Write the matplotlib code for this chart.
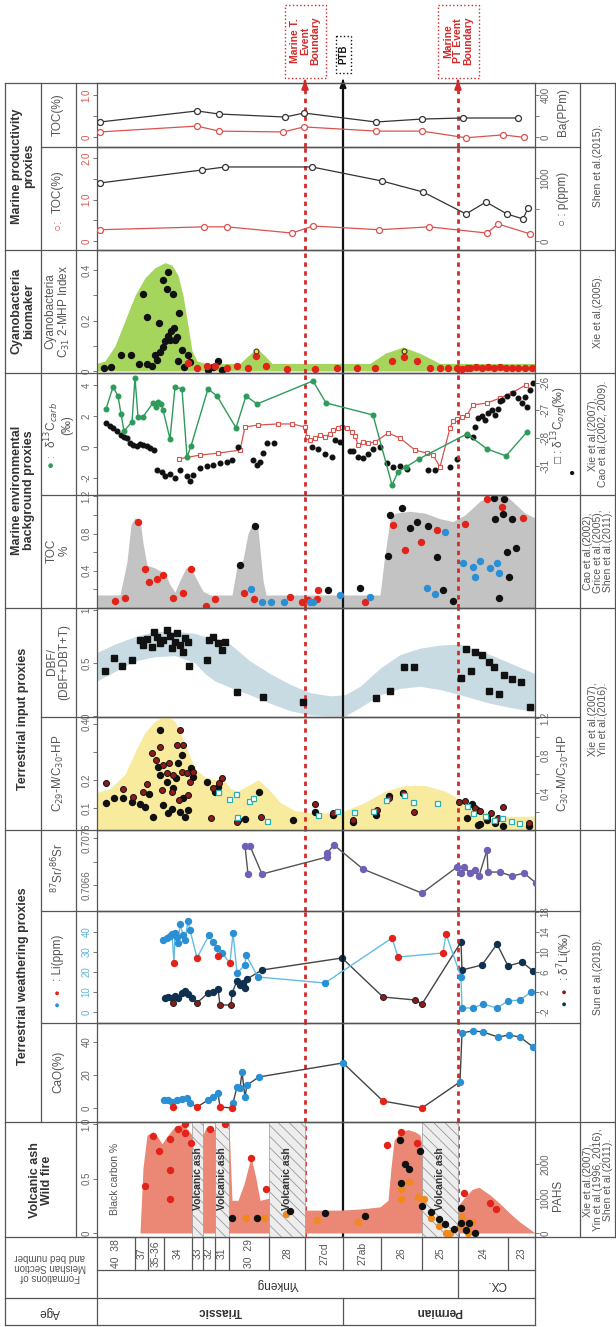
import matplotlib
matplotlib.use("Agg")
import matplotlib.pyplot as plt
from matplotlib.lines import Line2D
from matplotlib.patches import Rectangle

plt.rcParams["font.family"] = ["Liberation Sans", "DejaVu Sans"]
plt.rcParams["hatch.linewidth"] = 0.6

W, H = 616, 1327
X0, X1 = 97, 535            # plot column (left / right edge, px)
STRAT_LIM = (97, 535)       # stratigraphic position units (top of section at left)
LINE = "#555555"
TXT = "#444444"

# ---------------------------------------------------------------- section
BED_EDGES = [97, 135, 148, 164, 192, 203, 215, 229, 269, 305, 343, 381, 422, 458, 508, 535]
BED_LABELS = ["40  38", "37", "35-36", "34", "33", "32", "31", "30  29", "28",
              "27cd", "27ab", "26", "25", "24", "23"]
FORMATIONS = [("Yinkeng", 97, 458), ("CX.", 458, 535)]
AGES = [("Triassic", 97, 343), ("Permian", 343, 535)]
ASH_BANDS = [(192, 203), (215, 229), (269, 305), (422, 458)]
EVENT_RED = [305, 458]
PTB_X = 343

# ---------------------------------------------------------------- panel 1: TOC / Ba
toc1_x = [100, 197, 219, 283, 304, 376, 422, 466, 503, 524]
toc1 = [0.12, 0.26, 0.14, 0.12, 0.24, 0.14, 0.14, -0.02, 0.05, -0.01]
ba_x = [100, 197, 219, 285, 304, 376, 422, 463, 518]
ba = [143, 248, 219, 190, 228, 143, 171, 181, 181]

# ---------------------------------------------------------------- panel 2: TOC / P
toc2_x = [100, 204, 227, 292, 313, 379, 429, 487, 498, 530]
toc2 = [0.27, 0.34, 0.34, 0.19, 0.36, 0.27, 0.34, 0.19, 0.41, 0.17]
p_x = [100, 202, 225, 312, 382, 423, 466, 486, 507, 523, 528]
p_ppm = [921, 1127, 1175, 1175, 952, 778, 429, 619, 429, 349, 524]

# ---------------------------------------------------------------- panel 3: cyanobacteria
cy_env_x = [97, 105, 115, 125, 135, 145, 155, 165, 172, 178, 183, 188, 192, 197, 205, 240,
            248, 257, 265, 272, 370, 385, 403, 420, 440, 535]
cy_env = [0.03, 0.04, 0.10, 0.20, 0.30, 0.37, 0.41, 0.43, 0.42, 0.38, 0.30, 0.18, 0.08, 0.04,
          0.03, 0.03, 0.06, 0.09, 0.06, 0.03, 0.03, 0.07, 0.095, 0.07, 0.03, 0.03]
cy_blk_x = [104, 111, 121, 131, 143, 139, 147, 147, 152, 155, 157, 159, 160, 163, 163, 167,
            168, 170, 173, 174, 175, 177, 179, 178, 182, 184, 188, 190, 208, 213, 218, 222,
            165, 168, 171]
cy_blk = [0.012, 0.016, 0.063, 0.063, 0.305, 0.028, 0.214, 0.028, 0.02, 0.063, 0.044, 0.19,
          0.075, 0.095, 0.36, 0.325, 0.392, 0.123, 0.305, 0.17, 0.123, 0.135, 0.23, 0.04,
          0.083, 0.016, 0.063, 0.036, 0.004, 0.016, 0.04, 0.004, 0.12, 0.14, 0.16]
cy_red_x = [188, 197, 207, 215, 227, 237, 248, 256, 266, 287, 315, 337, 357, 375, 392, 404,
            417, 430, 440, 448, 457, 462, 467, 470, 476, 482, 488, 494, 500, 506, 512, 518,
            525, 532]
cy_red = [0.03, 0.012, 0.02, 0.02, 0.012, 0.02, 0.012, 0.06, 0.02, 0.008, 0.008, 0.01, 0.01,
          0.012, 0.04, 0.055, 0.04, 0.012, 0.012, 0.01, 0.01, 0.008, 0.01, 0.012, 0.016,
          0.012, 0.016, 0.012, 0.016, 0.012, 0.012, 0.012, 0.012, 0.012]
cy_yel_x = [256, 404]
cy_yel = [0.08, 0.08]

# ---------------------------------------------------------------- panel 4: d13C
carb_x = [106, 113, 118, 121, 124, 132, 135, 138, 143, 153, 156, 158, 161, 163, 170, 175,
          182, 187, 191, 208, 217, 236, 246, 257, 313, 326, 373, 392, 398, 406, 419, 467,
          487, 506, 527]
carb = [2.45, 3.87, 3.29, 2.13, 1.03, 1.61, 4.45, 1.94, 1.94, 2.84, 2.58, 2.9, 2.77, 2.39,
        0.52, 3.87, 3.74, -0.65, 0.06, 3.74, 3.29, 1.23, 3.29, 2.77, 4.26, 2.84, 2.06,
        -2.45, -1.61, -1.29, -0.77, 0.84, -0.13, -0.58, 0.97]
org_blk_x = [106, 110, 113, 117, 121, 124, 127, 130, 133, 137, 140, 143, 147, 150, 154, 157,
             162, 165, 170, 175, 180, 187, 190, 193, 200, 207, 213, 220, 227, 232, 238, 253,
             257, 260, 263, 267, 274, 312, 318, 325, 332, 335, 340, 350, 353, 358, 363, 368,
             373, 380, 387, 393, 400, 407, 428, 435, 450, 457, 467, 473, 475, 478, 482, 485,
             488, 492, 495, 498, 500, 502, 507, 513, 518, 522, 525, 527, 530, 533]
org_blk = [-27.45, -27.56, -27.64, -27.75, -27.89, -27.96, -28.0, -28.18, -28.25, -28.29,
           -28.22, -28.25, -28.29, -28.36, -28.44, -29.16, -29.24, -29.38, -29.31, -29.45,
           -29.16, -29.38, -29.56, -29.35, -29.09, -29.02, -28.98, -28.91, -28.87, -28.8,
           -28.33, -28.8, -28.98, -28.87, -28.55, -28.18, -28.18, -28.33, -28.4, -28.58,
           -28.69, -28.07, -28.15, -28.47, -28.47, -28.69, -28.73, -28.58, -28.4, -28.33,
           -28.91, -29.05, -29.02, -29.13, -29.16, -29.16, -29.05, -28.76, -27.89, -27.96,
           -27.6, -27.27, -27.2, -27.35, -27.09, -26.98, -27.16, -26.95, -26.65, -26.62,
           -26.47, -26.36, -26.55, -26.73, -26.51, -26.87, -26.25, -26.0]
org_sq_x = [179, 200, 218, 240, 245, 258, 278, 292, 305, 307, 310, 315, 320, 325, 330, 333,
            338, 342, 347, 352, 355, 358, 363, 368, 375, 388, 400, 415, 427, 433, 440, 450,
            453, 457, 462, 467, 473, 487, 500, 512, 526]
org_sq = [-28.76, -28.62, -28.55, -28.44, -27.6, -27.53, -27.49, -27.49, -27.6, -27.96,
          -28.07, -28.0, -27.89, -27.96, -27.85, -27.71, -27.64, -27.6, -27.64, -27.78,
          -27.93, -28.25, -28.15, -28.18, -28.15, -27.82, -28.0, -28.44, -28.55, -28.62,
          -29.05, -27.64, -27.38, -27.31, -27.24, -27.16, -26.8, -26.73, -26.55, -26.36,
          -26.07]
ORG_TICKS = [-29, -28, -27, -26]
ORG_TICKLABELS = ["-31", "-28", "-27", "-26"]

# ---------------------------------------------------------------- panel 5: TOC %
toc_env_x = [97, 120, 127, 131, 135, 140, 143, 147, 155, 160, 165, 170, 175, 180, 186, 190,
             196, 203, 210, 232, 237, 243, 248, 253, 258, 263, 266, 380, 384, 390, 395, 410,
             425, 440, 453, 465, 480, 495, 505, 515, 525, 535]
toc_env = [0.14, 0.14, 0.5, 0.9, 0.97, 0.95, 0.7, 0.46, 0.43, 0.40, 0.38, 0.25, 0.17, 0.3,
           0.43, 0.45, 0.32, 0.18, 0.14, 0.14, 0.45, 0.52, 0.8, 0.92, 0.85, 0.3, 0.14, 0.14,
           0.5, 0.95, 1.02, 1.04, 1.02, 0.96, 0.93, 1.0, 1.15, 1.22, 1.22, 1.12, 1.02, 0.97]
toc_red_x = [115, 125, 138, 145, 149, 157, 163, 173, 183, 191, 206, 215, 244, 254, 290, 302,
             317, 308, 318, 365, 393, 405, 421, 437, 465, 487, 502, 523]
toc_red = [0.08, 0.11, 0.92, 0.42, 0.28, 0.31, 0.35, 0.11, 0.16, 0.42, 0.02, 0.1, 0.16, 0.1,
           0.12, 0.06, 0.1, 0.09, 0.19, 0.06, 0.89, 0.62, 0.71, 0.84, 0.9, 1.17, 1.09, 0.97]
toc_blk_x = [240, 255, 328, 360, 388, 390, 402, 410, 417, 428, 437, 443, 453, 494, 504, 495,
             503, 512, 507, 516, 509, 499]
toc_blk = [0.46, 0.88, 0.19, 0.22, 0.56, 1.0, 1.08, 0.86, 0.93, 0.88, 0.55, 0.19, 0.08,
           1.18, 1.17, 0.96, 1.01, 0.96, 0.6, 0.64, 0.33, 0.11]
toc_blu_x = [251, 262, 271, 284, 310, 313, 340, 370, 445, 427, 435, 463, 473, 475, 480, 490,
             497, 499]
toc_blu = [0.2, 0.06, 0.06, 0.06, 0.06, 0.06, 0.14, 0.12, 0.82, 0.22, 0.15, 0.48, 0.44,
           0.33, 0.5, 0.43, 0.48, 0.38]

# ---------------------------------------------------------------- panel 6: DBF
dbf_band_x = [97, 115, 135, 155, 175, 195, 205, 215, 230, 250, 270, 290, 310, 330, 345,
              360, 380, 400, 420, 440, 460, 490, 510, 535]
dbf_lo = [0.33, 0.42, 0.52, 0.56, 0.57, 0.50, 0.40, 0.33, 0.27, 0.20, 0.12, 0.05, 0.01,
          0.0, 0.0, 0.08, 0.2, 0.26, 0.28, 0.25, 0.2, 0.12, 0.08, 0.04]
dbf_hi = [0.60, 0.68, 0.75, 0.80, 0.80, 0.78, 0.75, 0.74, 0.68, 0.52, 0.40, 0.30, 0.22,
          0.19, 0.20, 0.28, 0.45, 0.58, 0.64, 0.67, 0.68, 0.58, 0.50, 0.40]
dbf_x = [105, 114, 122, 132, 140, 143, 147, 152, 154, 157, 160, 163, 167, 170, 172, 175,
         177, 180, 183, 185, 188, 189, 207, 209, 213, 218, 222, 225, 237, 263, 303, 376,
         390, 404, 414, 461, 466, 471, 475, 482, 489, 489, 494, 499, 504, 512, 521, 530]
dbf = [0.42, 0.55, 0.47, 0.53, 0.72, 0.67, 0.73, 0.65, 0.79, 0.75, 0.69, 0.72, 0.81, 0.76,
       0.64, 0.70, 0.78, 0.67, 0.60, 0.74, 0.70, 0.47, 0.53, 0.72, 0.75, 0.69, 0.62, 0.70,
       0.23, 0.18, 0.13, 0.17, 0.24, 0.46, 0.46, 0.36, 0.63, 0.42, 0.60, 0.58, 0.51, 0.24,
       0.46, 0.21, 0.39, 0.35, 0.32, 0.08]

# ---------------------------------------------------------------- panel 7: C29-M/C30-HP
c29_env_x = [97, 110, 125, 135, 145, 155, 165, 175, 185, 195, 205, 215, 222, 230, 238, 248,
             258, 268, 280, 295, 320, 345, 365, 385, 405, 425, 445, 460, 475, 490, 505, 535]
c29_env = [0.155, 0.17, 0.22, 0.3, 0.37, 0.41, 0.43, 0.41, 0.33, 0.24, 0.21, 0.2, 0.21, 0.17,
           0.16, 0.18, 0.2, 0.17, 0.12, 0.09, 0.08, 0.09, 0.12, 0.16, 0.18, 0.18, 0.16, 0.13,
           0.1, 0.08, 0.07, 0.07]
c29_blk_x = [106, 114, 123, 132, 140, 145, 149, 153, 158, 160, 163, 167, 168, 172, 173, 176,
             178, 180, 182, 183, 185, 188, 191, 193, 207, 215, 218, 238, 245, 259, 293, 315,
             160, 333, 353, 376, 389, 403, 467, 472, 477, 480, 487, 495, 503, 529, 478]
c29_blk = [0.118, 0.136, 0.136, 0.121, 0.114, 0.104, 0.15, 0.068, 0.246, 0.218, 0.111, 0.193,
           0.082, 0.096, 0.171, 0.207, 0.261, 0.086, 0.289, 0.136, 0.068, 0.093, 0.243, 0.211,
           0.193, 0.157, 0.175, 0.057, 0.061, 0.157, 0.057, 0.086, 0.379, 0.075, 0.05, 0.075,
           0.143, 0.154, 0.064, 0.114, 0.093, 0.043, 0.057, 0.046, 0.036, 0.036, 0.039]
c29_red_x = [106, 123, 133, 143, 147, 152, 156, 160, 162, 163, 167, 169, 172, 173, 177, 179,
             182, 183, 187, 188, 190, 193, 180, 211, 213, 219, 222, 237, 261, 315, 333, 353,
             377, 389, 403, 414, 459, 465, 475, 480, 487, 491, 498, 503, 529]
c29_red = [0.189, 0.168, 0.139, 0.157, 0.186, 0.296, 0.271, 0.318, 0.164, 0.254, 0.225, 0.261,
           0.157, 0.218, 0.325, 0.129, 0.229, 0.325, 0.225, 0.146, 0.193, 0.229, 0.379, 0.064,
           0.171, 0.189, 0.207, 0.05, 0.068, 0.114, 0.082, 0.057, 0.093, 0.136, 0.154, 0.086,
           0.121, 0.125, 0.1, 0.089, 0.068, 0.082, 0.064, 0.104, 0.046]
c29_sq_x = [218, 229, 236, 237, 249, 253, 267, 318, 337, 354, 373, 386, 404, 413, 437, 467,
            473, 485, 494, 502, 511, 519]
c29_sq = [0.157, 0.132, 0.15, 0.068, 0.125, 0.136, 0.054, 0.075, 0.089, 0.086, 0.089, 0.129,
          0.146, 0.121, 0.118, 0.107, 0.082, 0.071, 0.057, 0.064, 0.054, 0.046]

# ---------------------------------------------------------------- panel 8: 87Sr/86Sr
sr_x = [248, 245, 250, 262, 327, 327, 334, 363, 422, 457, 461, 464, 470, 475, 479, 487,
        488, 500, 512, 524, 536]
sr = [0.706834, 0.707430, 0.707430, 0.706834, 0.707196, 0.707281, 0.707451, 0.706940,
      0.706430, 0.706983, 0.706855, 0.706983, 0.706855, 0.706919, 0.706791, 0.707345,
      0.706877, 0.706877, 0.706791, 0.706855, 0.706643]

# ---------------------------------------------------------------- panel 9: Li / d7Li
li_x = [163, 167, 170, 172, 174, 175, 177, 178, 180, 183, 185, 188, 190, 197, 209, 213, 217,
        218, 222, 230, 233, 237, 245, 246, 258, 325, 392, 398, 443, 446, 461, 462, 473, 483,
        497, 508, 520, 531]
li = [36, 37, 38, 39, 24.5, 39.5, 37.5, 34.5, 44, 38.5, 36, 45.5, 41, 27, 38.5, 35, 32, 28,
      29.5, 24.5, 39.5, 19.5, 23.5, 28.5, 17.5, 14.5, 37, 27.5, 29.5, 39, 17.5, 2, 2, 4, 2,
      5.5, 6, 10]
li_src = list("bbbbrbbbbbbbbrbbbrbrbbbbbbrrrrbbbbbbbb")
d7li_x = [165, 168, 172, 173, 175, 178, 182, 185, 188, 192, 197, 208, 213, 218, 220, 231,
          232, 237, 240, 243, 245, 247, 262, 342, 383, 415, 422, 461, 462, 482, 497, 508,
          522, 533]
d7li = [0.8, 1.0, 0.8, -0.2, 1.2, 0.8, 1.8, 2.2, 1.6, 0.8, -0.2, 1.8, 2.0, 2.6, -0.6, -0.6,
        1.8, 4.2, 3.4, 3.8, 2.8, 4.6, 6.4, 8.8, 1.0, 0.4, -0.4, 12.0, 6.4, 7.4, 11.6, 7.2,
        8.0, 6.2]
d7li_src = list("nnnrnnnnnnrnnnrrnnnnnnnnrrrnnnnnnn")

# ---------------------------------------------------------------- panel 10: CaO
cao_x = [164, 168, 172, 173, 177, 182, 187, 190, 197, 208, 213, 218, 220, 232, 233, 237,
         240, 242, 245, 247, 259, 343, 383, 422, 460, 462, 473, 483, 498, 509, 520, 533]
cao = [4.8, 4.8, 3.6, 0.6, 4.8, 5.5, 6.1, 3.0, 0.6, 4.8, 6.7, 9.1, 0.6, 0.0, 3.0, 12.7,
       12.1, 21.8, 6.7, 13.9, 18.8, 27.3, 4.2, 0.0, 15.8, 45.5, 46.7, 46.1, 43.0, 44.2,
       43.0, 37.0]
cao_src = list("bbbrbbbbrbbbrrbbbbbbbbrrbbbbbbbb")

# ---------------------------------------------------------------- panel 11: black carbon / PAHs
bc_env_x = [97, 140, 143, 147, 153, 158, 162, 168, 175, 182, 188, 192, 203, 206, 210, 214,
            229, 232, 238, 244, 251, 256, 260, 269, 305, 340, 360, 380, 388, 391, 394, 400,
            408, 415, 420, 428, 445, 458, 465, 472, 479, 490, 500, 510, 520, 535]
bc_env = [0.0, 0.0, 0.6, 0.9, 0.93, 0.88, 0.82, 0.9, 0.98, 1.0, 0.95, 0.9, 0.9, 0.97, 0.98,
          0.95, 1.0, 0.3, 0.3, 0.45, 0.7, 0.5, 0.3, 0.32, 0.21, 0.21, 0.22, 0.24, 0.3, 0.6,
          0.85, 0.93, 0.95, 0.93, 0.9, 0.5, 0.28, 0.25, 0.33, 0.4, 0.42, 0.35, 0.27, 0.18,
          0.1, 0.0]
bc_red_x = [145, 153, 159, 170, 170, 170, 178, 185, 185, 191, 210, 225, 251, 266, 401, 387,
            417, 464, 490, 496]
bc_red = [0.43, 0.89, 0.75, 0.86, 0.58, 0.31, 0.96, 1.0, 0.92, 0.83, 0.96, 1.0, 0.69, 0.4,
          0.93, 0.81, 0.83, 0.37, 0.28, 0.22]
bc_blk_x = [232, 257, 290, 325, 365, 400, 405, 409, 401, 420, 422, 431, 439, 445, 454, 461,
            461, 466, 469, 475]
bc_blk = [0.14, 0.14, 0.2, 0.18, 0.16, 0.85, 0.63, 0.59, 0.46, 0.75, 0.25, 0.19, 0.13, 0.08,
          0.04, 0.23, 0.09, 0.03, 0.09, 0.0]
bc_org_x = [246, 264, 286, 317, 358, 401, 401, 409, 418, 424, 431, 439, 446, 450, 460, 462,
            468, 472, 468]
bc_org = [0.14, 0.14, 0.17, 0.12, 0.1, 0.4, 0.31, 0.47, 0.33, 0.31, 0.14, 0.06, 0.0, 0.0,
          0.06, 0.15, 0.06, 0.1, 0.0]

# ---------------------------------------------------------------- colours
RED = "#e2231a"
BLUE = "#2b8fd3"
LBLUE = "#63bde3"
NAVY = "#10304f"
DRED = "#8e1b1b"
GREEN = "#2d9b5a"
ORANGE = "#f08a1c"
PURPLE = "#6f5fb6"
EVRED = "#d42a2a"

fig = plt.figure(figsize=(W / 100, H / 100), dpi=100)


def fx(px):
    return px / W


def fy(py):
    return 1 - py / H


def tline(x0, y0, x1, y1, **kw):
    kw.setdefault("color", LINE)
    kw.setdefault("lw", 0.9)
    fig.add_artist(Line2D([fx(x0), fx(x1)], [fy(y0), fy(y1)], transform=fig.transFigure, **kw))


def ftext(x, y, s, **kw):
    kw.setdefault("rotation", 90)
    kw.setdefault("ha", "center")
    kw.setdefault("va", "center")
    kw.setdefault("color", TXT)
    kw.setdefault("fontsize", 8.5)
    kw.setdefault("linespacing", 1.05)
    fig.text(fx(x), fy(y), s, **kw)


def fix_labels(ax):
    for t in ax.get_yticklabels():
        t.set_va("center")


def panel(top, bot, ylim):
    ax = fig.add_axes([fx(X0), fy(bot), fx(X1) - fx(X0), (bot - top) / H])
    ax.set_xlim(STRAT_LIM)
    ax.set_ylim(ylim)
    ax.set_xticks([])
    ax.patch.set_alpha(0)
    for s in ax.spines.values():
        s.set_color(LINE)
        s.set_linewidth(0.9)
    ax.tick_params(axis="y", labelsize=7, colors="#777777", labelcolor="#666666",
                   length=3, width=0.7, pad=1, labelrotation=90)
    for x in EVENT_RED:
        ax.axvline(x, color=EVRED, lw=2.0, ls=(0, (1.6, 1.6)), zorder=2.5)
    ax.axvline(PTB_X, color="#111111", lw=1.6, zorder=2.4)
    return ax


def right_axis(ax, ylim, ticks, labels):
    r = ax.twinx()
    r.set_ylim(ylim)
    r.set_yticks(ticks)
    r.set_yticklabels(labels)
    r.tick_params(axis="y", labelsize=7, colors="#777777", labelcolor="#666666",
                  length=3, width=0.7, pad=1, labelrotation=90)
    for s in r.spines.values():
        s.set_visible(False)
    fix_labels(r)
    return r


def ticks(ax, vals, labels, color=None):
    ax.set_yticks(vals)
    ax.set_yticklabels(labels)
    if color:
        ax.tick_params(axis="y", labelcolor=color)
    fix_labels(ax)


def split(xs, vs, flags, key):
    return ([x for x, f in zip(xs, flags) if f == key],
            [v for v, f in zip(vs, flags) if f == key])


# ---------------------------------------------------------------- P1
ax = panel(83, 147, (-0.24, 1.29))
ticks(ax, [0, 0.5, 1.0], ["0", "", "1.0"], "#d9534f")
r = right_axis(ax, (-95, 514), [0, 200, 400], ["0", "", "400"])
r.plot(ba_x, ba, "-o", color="#333333", lw=0.9, ms=4.3, mfc="white", mew=0.9, zorder=3)
ax.plot(toc1_x, toc1, "-o", color="#d9534f", lw=0.9, ms=4.3, mfc="white", mew=0.9, zorder=3)

# ---------------------------------------------------------------- P2
ax = panel(147, 250, (-0.22, 2.27))
ticks(ax, [0, 0.5, 1.0, 1.5, 2.0], ["0", "", "1.0", "", "2.0"], "#d9534f")
r = right_axis(ax, (-143, 1492), [0, 500, 1000], ["0", "", "1000"])
r.plot(p_x, p_ppm, "-o", color="#333333", lw=0.9, ms=4.3, mfc="white", mew=0.9, zorder=3)
ax.plot(toc2_x, toc2, "-o", color="#d9534f", lw=0.9, ms=4.3, mfc="white", mew=0.9, zorder=3)

# ---------------------------------------------------------------- P3
ax = panel(250, 373, (-0.008, 0.48))
ticks(ax, [0, 0.1, 0.2, 0.3, 0.4], ["0", "", "0.2", "", "0.4"])
ax.fill_between(cy_env_x, 0, cy_env, color="#a6d55e", lw=0, zorder=1)
ax.plot(cy_blk_x, cy_blk, "o", color="#111111", ms=4.3, zorder=3)
ax.plot(cy_red_x, cy_red, "o", color=RED, ms=4.3, zorder=3)
ax.plot(cy_yel_x, cy_yel, "o", color="#f5e41c", mec="#333333", mew=0.8, ms=3.5, zorder=4)

# ---------------------------------------------------------------- P4
ax = panel(373, 495, (-3.1, 4.77))
ticks(ax, [-2, 0, 2, 4], ["-2", "0", "2", "4"])
r = right_axis(ax, (-30.07, -25.64), ORG_TICKS, ORG_TICKLABELS)
r.plot(org_sq_x, org_sq, "-s", color="#d9534f", lw=0.9, ms=3.3, mfc="white", mew=0.8, zorder=3)
r.plot(org_blk_x, org_blk, "o", color="#111111", ms=3.3, zorder=3)
ax.plot(carb_x, carb, "-o", color=GREEN, lw=1.0, ms=3.3, zorder=4)
ax.set_zorder(r.get_zorder() + 1)

# ---------------------------------------------------------------- P5
ax = panel(495, 608, (0, 1.215))
ticks(ax, [0, 0.2, 0.4, 0.6, 0.8, 1.0, 1.2], ["", "", "0.4", "", "0.8", "", "1.2"])
ax.fill_between(toc_env_x, 0, toc_env, color="#c3c3c3", lw=0, zorder=1)
ax.plot(toc_red_x, toc_red, "o", color=RED, ms=4.3, zorder=3)
ax.plot(toc_blk_x, toc_blk, "o", color="#111111", ms=4.3, zorder=3)
ax.plot(toc_blu_x, toc_blu, "o", color=BLUE, ms=4.3, zorder=3)

# ---------------------------------------------------------------- P6
ax = panel(608, 717, (-0.01, 1.02))
ticks(ax, [0, 0.5, 1.0], ["0", "0.5", "1"])
ax.fill_between(dbf_band_x, dbf_lo, dbf_hi, color="#c8dbe2", lw=0, zorder=1)
ax.plot(dbf_x, dbf, "s", color="#111111", ms=4.2, zorder=3)

# ---------------------------------------------------------------- P7
ax = panel(717, 830, (0.021, 0.425))
ticks(ax, [0.1, 0.2, 0.3, 0.4], ["0.1", "0.2", "", "0.4"])
r = right_axis(ax, (0.01, 1.21), [0.2, 0.4, 0.6, 0.8, 1.0, 1.2], ["", "0.4", "", "0.8", "", "1.2"])
ax.fill_between(c29_env_x, 0, c29_env, color="#f8eb9e", lw=0, zorder=1)
ax.plot(c29_blk_x, c29_blk, "o", color="#111111", ms=4.3, zorder=3)
ax.plot(c29_red_x, c29_red, "o", color=DRED, mec="#111111", mew=0.7, ms=4.3, zorder=3)
ax.plot(c29_sq_x, c29_sq, "s", color="#27b0b3", mfc="white", mew=0.9, ms=3.6, zorder=3)
ax.set_zorder(r.get_zorder() + 1)

# ---------------------------------------------------------------- P8
ax = panel(830, 911, (0.70605, 0.70777))
ticks(ax, [0.7066, 0.7071, 0.7076], ["0.7066", "", "0.7076"])
ax.plot(sr_x, sr, "-", color="#555555", lw=1.0, zorder=3)
ax.plot(sr_x, sr, "o", color=PURPLE, ms=4.3, zorder=4)

# ---------------------------------------------------------------- P9
ax = panel(911, 1023, (-5.5, 50.5))
ticks(ax, [0, 10, 20, 30, 40], ["0", "10", "20", "30", "40"], "#5db6da")
r = right_axis(ax, (-4.2, 18.2), [-2, 2, 6, 10, 14, 18], ["-2", "2", "6", "10", "14", "18"])
r.plot(d7li_x, d7li, "-", color="#444444", lw=1.0, zorder=3)
r.plot(*split(d7li_x, d7li, d7li_src, "n"), "o", color=NAVY, ms=4.3, zorder=4)
r.plot(*split(d7li_x, d7li, d7li_src, "r"), "o", color=DRED, mec="#222222", mew=0.7,
       ms=4.3, zorder=4)
ax.plot(li_x, li, "-", color=LBLUE, lw=1.0, zorder=3)
ax.plot(*split(li_x, li, li_src, "b"), "o", color=BLUE, ms=4.3, zorder=4)
ax.plot(*split(li_x, li, li_src, "r"), "o", color=RED, ms=4.3, zorder=4)
ax.set_zorder(r.get_zorder() + 1)

# ---------------------------------------------------------------- P10
ax = panel(1023, 1122, (-8.5, 51.5))
ticks(ax, [0, 20, 40], ["0", "20", "40"])
ax.plot(cao_x, cao, "-", color="#444444", lw=1.0, zorder=3)
ax.plot(*split(cao_x, cao, cao_src, "b"), "o", color=BLUE, ms=4.3, zorder=4)
ax.plot(*split(cao_x, cao, cao_src, "r"), "o", color=RED, ms=4.3, zorder=4)

# ---------------------------------------------------------------- P11
ax = panel(1122, 1237, (-0.037, 1.02))
ticks(ax, [0, 0.5, 1.0], ["0", "0.5", "1.0"])
r = right_axis(ax, (-118, 3235), [0, 1000, 2000], ["0", "1000", "2000"])
ax.fill_between(bc_env_x, 0, bc_env, color="#ea8775", lw=0, zorder=2.6)
for a, b in ASH_BANDS:
    ax.axvspan(a, b, facecolor="#ededed", edgecolor="#9a9a9a", hatch="\\\\\\", lw=0.5, zorder=2.7)
    ax.text((a + b) / 2, 0.5, "Volcanic ash", rotation=90, ha="center", va="center",
            fontsize=7.5, fontweight="bold", color="#333333", zorder=3)
ax.plot(bc_red_x, bc_red, "o", color=RED, ms=4.3, zorder=4)
ax.plot(bc_org_x, bc_org, "o", color=ORANGE, ms=4.3, zorder=4)
ax.plot(bc_blk_x, bc_blk, "o", color="#111111", ms=4.3, zorder=4)
ax.text(115, 0.5, "Black carbon %", rotation=90, ha="center", va="center", fontsize=7.5,
        color="#555555")
ax.set_zorder(r.get_zorder() + 1)

# ---------------------------------------------------------------- header (event markers)
hx = fig.add_axes([fx(X0), fy(83), fx(X1) - fx(X0), 83 / H])
hx.set_xlim(STRAT_LIM)
hx.set_ylim(83, 0)
hx.axis("off")
for x, lab in zip(EVENT_RED, ["Marine T.\nEvent\nBoundary", "Marine\nPT Event\nBoundary"]):
    hx.add_patch(Rectangle((x - 20, 5), 41, 73, fc="white", ec=EVRED, ls=":", lw=1.0))
    hx.annotate("", xy=(x, 80), xytext=(x, 84), annotation_clip=False,
                arrowprops=dict(arrowstyle="-|>,head_width=0.18,head_length=0.45",
                                color=EVRED, lw=1.8))
    hx.text(x, 41, lab, rotation=90, ha="center", va="center", fontsize=7.5, color=EVRED,
            fontweight="bold", linespacing=1.0)
hx.add_patch(Rectangle((PTB_X - 7, 36), 15, 37, fc="white", ec="#111111", ls=":", lw=1.0))
hx.annotate("", xy=(PTB_X, 79), xytext=(PTB_X, 84), annotation_clip=False,
            arrowprops=dict(arrowstyle="-|>,head_width=0.18,head_length=0.45",
                            color="#111111", lw=1.5))
hx.text(PTB_X + 0.5, 54.5, "PTB", rotation=90, ha="center", va="center", fontsize=7,
        color="#111111", fontweight="bold")

# ---------------------------------------------------------------- bottom rows (section / formation / age)
bx = fig.add_axes([fx(X0), fy(1325), fx(X1) - fx(X0), (1325 - 1237) / H])
bx.set_xlim(STRAT_LIM)
bx.set_ylim(1325, 1237)
bx.axis("off")
for a, b, lab in zip(BED_EDGES[:-1], BED_EDGES[1:], BED_LABELS):
    bx.text((a + b) / 2, 1253.5, lab, rotation=90, ha="center", va="center", fontsize=7.5,
            color="#555555")
for e in BED_EDGES[1:-1]:
    bx.plot([e, e], [1237, 1270], color=LINE, lw=0.9)
for lab, a, b in FORMATIONS:
    bx.text((a + b) / 2, 1284, lab, rotation=180, ha="center", va="center", fontsize=8.5,
            color="#333333")
bx.plot([FORMATIONS[1][1]] * 2, [1270, 1298], color=LINE, lw=0.9)
for lab, a, b in AGES:
    bx.text((a + b) / 2, 1311.5, lab, rotation=180, ha="center", va="center", fontsize=8.5,
            color="#333333", fontweight="bold")
bx.plot([AGES[1][1]] * 2, [1298, 1325], color=LINE, lw=0.9)

# ---------------------------------------------------------------- table frame
for y, a, b in [(83, 5, 616), (147, 41, 580), (250, 5, 616), (373, 5, 616), (495, 41, 616),
                (608, 5, 616), (717, 41, 580), (830, 5, 616), (911, 41, 580),
                (1023, 41, 580), (1122, 5, 616), (1237, 5, 616), (1270, 97, 535),
                (1298, 5, 535), (1325, 5, 535)]:
    tline(a, y, b, y)
for x, a, b in [(5, 83, 1325), (41, 83, 1122), (76, 83, 1237), (97, 1237, 1325),
                (535, 1237, 1325), (580, 83, 1237), (615, 83, 1237)]:
    tline(x, a, x, b)

# group titles
GB = dict(fontweight="bold", fontsize=9, color="#333333")
ftext(23, 166, "Marine productivity\nproxies", **GB)
ftext(23, 311, "Cyanobacteria\nbiomaker", **GB)
ftext(23, 490, "Marine environmental\nbackground proxies", **GB)
ftext(23, 719, "Terrestrial input proxies", **GB)
ftext(23, 976, "Terrestrial weathering proxies", **GB)
ftext(41, 1180, "Volcanic ash\nWild fire", **GB)
ftext(50, 1267, "Formations of\nMeishan Section\nand bed number", rotation=180, fontsize=7,
      color="#555555")
ftext(50, 1311.5, "Age", rotation=180, fontsize=8.5, color="#333333")

# variable names
SB = dict(fontsize=8.5, color="#555555")
ftext(58, 115, "TOC(%)", **SB)
ftext(58, 192, "TOC(%)", **SB)
ftext(58, 225, "○:", color="#d9534f", fontsize=8.5)
ftext(58, 311, "Cyanobacteria\nC$_{31}$ 2-MHP Index", **SB)
ftext(58, 425, "δ$^{13}$C$_{carb}$\n(‰)", **SB)
ftext(52, 462, "● :", color=GREEN, fontsize=8)
ftext(58, 551, "TOC\n%", **SB)
ftext(58, 662, "DBF/\n(DBF+DBT+T)", **SB)
ftext(58, 773, "C$_{29}$-M/C$_{30}$-HP", **SB)
ftext(58, 868, "$^{87}$Sr/$^{86}$Sr", **SB)
ftext(58, 958, ": Li(ppm)", **SB)
ftext(58, 992, "●", color=RED, fontsize=6.5)
ftext(58, 1004, "●", color=BLUE, fontsize=6.5)
ftext(58, 1072, "CaO(%)", **SB)

# right-hand axis names
ftext(563, 112, "Ba(PPm)", **SB)
ftext(563, 199, "○ : p(ppm)", **SB)
ftext(560, 425, "□ : δ$^{13}$C$_{org}$(‰)", **SB)
ftext(572, 472, "●", color="#111111", fontsize=7)
ftext(563, 773, "C$_{30}$-M/C$_{30}$-HP", **SB)
ftext(565, 957, ": δ$^{7}$Li(‰)", **SB)
ftext(565, 991, "●", color=DRED, fontsize=6.5)
ftext(565, 1003, "●", color=NAVY, fontsize=6.5)
ftext(558, 1195, "PAHS", **SB)

# references
RB = dict(fontsize=7.5, color="#555555")
ftext(598, 166, "Shen et al.(2015).", **RB)
ftext(598, 311, "Xie et al.(2005).", **RB)
ftext(598, 434, "Xie et al.(2007),\nCao et al.(2002, 2009).", **RB)
ftext(598, 551, "Cao et al.(2002),\nGrice et al.(2005),\nShen et al.(2011).", **RB)
ftext(598, 719, "Xie et al.(2007),\nYin et al.(2016).", **RB)
ftext(598, 976, "Sun et al.(2018).", **RB)
ftext(598, 1180, "Xie et al.(2007),\nYin et al.(1996, 2016),\nShen et al.(2011).", **RB)

fig.savefig("out.png", dpi=100)
